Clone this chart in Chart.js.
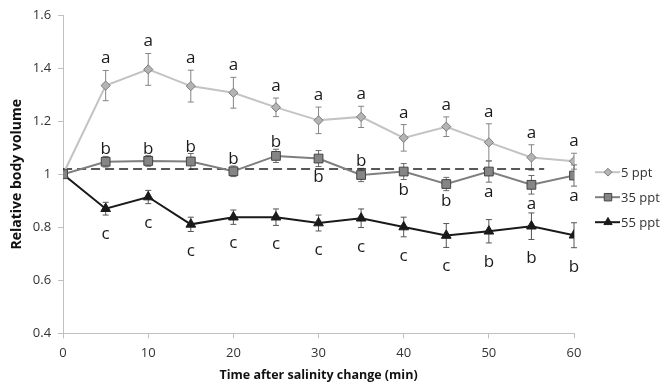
<!DOCTYPE html>
<html>
<head>
<meta charset="utf-8">
<script src="https://cdn.jsdelivr.net/npm/chart.js"></script>
<style>
  body { margin: 0; background: #fff; }
  #wrap { width: 663px; height: 384px; }
</style>
</head>
<body>
<div id="wrap"><canvas id="chart" width="663" height="384"></canvas></div>
<script>
// --- DATA ---
const times = [0, 5, 10, 15, 20, 25, 30, 35, 40, 45, 50, 55, 60];
const seriesNames = ["5 ppt", "35 ppt", "55 ppt"];

const vol5  = [1.0, 1.334, 1.395, 1.332, 1.307, 1.252, 1.203, 1.216, 1.137, 1.179, 1.120, 1.063, 1.049];
const err5  = [0, 0.057, 0.060, 0.060, 0.058, 0.035, 0.050, 0.040, 0.050, 0.037, 0.070, 0.048, 0.030];
const vol35 = [1.0, 1.047, 1.050, 1.048, 1.011, 1.069, 1.059, 0.997, 1.010, 0.963, 1.010, 0.960, 0.995];
const err35 = [0, 0.020, 0.020, 0.030, 0.020, 0.025, 0.030, 0.025, 0.030, 0.025, 0.040, 0.035, 0.040];
const vol55 = [1.0, 0.870, 0.914, 0.811, 0.838, 0.838, 0.816, 0.834, 0.801, 0.769, 0.785, 0.804, 0.770];
const err55 = [0, 0.024, 0.025, 0.027, 0.027, 0.031, 0.030, 0.035, 0.037, 0.045, 0.044, 0.050, 0.047];

// significance letters and which side of the point they sit on
const letters5  = ["", "a", "a", "a", "a", "a", "a", "a", "a", "a", "a", "a", "a"];
const side5     = ["", "up", "up", "up", "up", "up", "up", "up", "up", "up", "up", "up", "up"];
const letters35 = ["", "b", "b", "b", "b", "b", "b", "b", "b", "b", "a", "a", "a"];
const side35    = ["", "up", "up", "up", "up", "up", "down", "up", "down", "down", "down", "down", "down"];
const letters55 = ["", "c", "c", "c", "c", "c", "c", "c", "c", "c", "b", "b", "b"];
const side55    = ["", "down", "down", "down", "down", "down", "down", "down", "down", "down", "down", "down", "down"];

// dashed reference line
const refX = [0, 56.5];
const refY = [1.02, 1.02];

const yTicks = [0.4, 0.6, 0.8, 1.0, 1.2, 1.4, 1.6];
const yTickLabels = ["0.4", "0.6", "0.8", "1", "1.2", "1.4", "1.6"];
const xTicks = [0, 10, 20, 30, 40, 50, 60];
const xTickLabels = ["0", "10", "20", "30", "40", "50", "60"];

const FONT = "'Open Sans', sans-serif";

// --- STYLES ---
const styles = [
  { line: "#c3c3c3", fill: "#b4b4b4", border: "#7a7a7a", point: "rectRot", radius: 4.6, err: "#858585", gapUp: 7, gapDown: 15 },
  { line: "#7f7f7f", fill: "#858585", border: "#444444", point: "rect", radius: 6.2, err: "#6a6a6a", gapUp: 2, gapDown: 15 },
  { line: "#1a1a1a", fill: "#1a1a1a", border: "#1a1a1a", point: "triangle", radius: 5.6, err: "#555555", gapUp: 4, gapDown: 24 }
];

const values = [vol5, vol35, vol55];
const errors = [err5, err35, err55];
const letters = [letters5, letters35, letters55];
const sides = [side5, side35, side55];

function pts(ys) { return times.map((t, i) => ({ x: t, y: ys[i] })); }

const datasets = values.map((v, k) => ({
  label: seriesNames[k],
  data: pts(v),
  borderColor: styles[k].line,
  borderWidth: 2,
  backgroundColor: styles[k].fill,
  pointBackgroundColor: styles[k].fill,
  pointBorderColor: styles[k].border,
  pointBorderWidth: 1,
  pointStyle: styles[k].point,
  pointRadius: styles[k].radius,
  tension: 0,
  order: k === 1 ? 0 : (k === 0 ? 2 : 1)
}));

datasets.push({
  label: "ref",
  data: refX.map((x, i) => ({ x: x, y: refY[i] })),
  borderColor: "#222",
  borderWidth: 1.5,
  borderDash: [9, 5],
  pointRadius: 0,
  order: 3
});

// error bars + letters + legend
const extras = {
  id: "extras",
  beforeDatasetsDraw(chart) {
    const ctx = chart.ctx, xs = chart.scales.x, ys = chart.scales.y;
    ctx.save();
    ctx.lineWidth = 1;
    values.forEach((v, k) => {
      ctx.strokeStyle = styles[k].err;
      v.forEach((val, i) => {
        const e = errors[k][i];
        if (!e) return;
        const px = xs.getPixelForValue(times[i]);
        const top = ys.getPixelForValue(val + e);
        const bot = ys.getPixelForValue(val - e);
        ctx.beginPath();
        ctx.moveTo(px, top); ctx.lineTo(px, bot);
        ctx.moveTo(px - 3, top); ctx.lineTo(px + 3, top);
        ctx.moveTo(px - 3, bot); ctx.lineTo(px + 3, bot);
        ctx.stroke();
      });
    });
    ctx.restore();
  },
  afterDraw(chart) {
    const ctx = chart.ctx, xs = chart.scales.x, ys = chart.scales.y, area = chart.chartArea;
    ctx.save();
    ctx.font = "17px " + FONT;
    ctx.fillStyle = "#1a1a1a";
    ctx.textAlign = "center";
    ctx.textBaseline = "alphabetic";
    values.forEach((v, k) => {
      v.forEach((val, i) => {
        const t = letters[k][i];
        if (!t) return;
        const e = errors[k][i];
        const px = xs.getPixelForValue(times[i]);
        if (sides[k][i] === "up") {
          ctx.fillText(t, px, ys.getPixelForValue(val + e) - styles[k].gapUp);
        } else {
          ctx.fillText(t, px, ys.getPixelForValue(val - e) + styles[k].gapDown);
        }
      });
    });

    // legend
    const lx = area.right + 21;
    let ly = (area.top + area.bottom) / 2 - 2;
    ctx.font = "13px " + FONT;
    ctx.textAlign = "left";
    ctx.textBaseline = "middle";
    seriesNames.forEach((name, k) => {
      const s = styles[k];
      ctx.strokeStyle = s.line;
      ctx.lineWidth = 2;
      ctx.beginPath();
      ctx.moveTo(lx, ly); ctx.lineTo(lx + 25, ly);
      ctx.stroke();
      ctx.fillStyle = s.fill;
      ctx.strokeStyle = s.border;
      ctx.lineWidth = 1;
      Chart.helpers.drawPoint(ctx, { pointStyle: s.point, radius: s.radius * 0.85, borderWidth: 1 }, lx + 13, ly);
      ctx.fillStyle = "#333";
      ctx.fillText(name, lx + 26, ly + 1);
      ly += 25;
    });
    ctx.restore();
  }
};

new Chart(document.getElementById("chart"), {
  type: "line",
  data: { datasets: datasets },
  plugins: [extras],
  options: {
    responsive: false,
    animation: false,
    devicePixelRatio: 1,
    layout: { padding: { left: 0, right: 89, top: 15, bottom: 1 } },
    plugins: { legend: { display: false }, tooltip: { enabled: false } },
    scales: {
      x: {
        type: "linear",
        min: 0, max: 60,
        afterBuildTicks: (axis) => { axis.ticks = xTicks.map(v => ({ value: v })); },
        ticks: {
          padding: 7,
          color: "#333",
          font: { family: FONT, size: 13 },
          callback: (v) => xTickLabels[xTicks.indexOf(v)]
        },
        grid: { drawOnChartArea: false, drawTicks: true, tickLength: 5, color: "#c0c0c0" },
        border: { color: "#c0c0c0", width: 1 },
        title: {
          display: true,
          text: "Time after salinity change (min)",
          color: "#111",
          font: { family: FONT, size: 12.5, weight: "bold" },
          padding: { top: 0, bottom: 0 }
        }
      },
      y: {
        min: 0.4, max: 1.6,
        afterBuildTicks: (axis) => { axis.ticks = yTicks.map(v => ({ value: v })); },
        ticks: {
          padding: 7,
          color: "#333",
          font: { family: FONT, size: 13 },
          callback: (v) => yTickLabels[yTicks.findIndex(t => Math.abs(t - v) < 1e-6)]
        },
        grid: { drawOnChartArea: false, drawTicks: true, tickLength: 5, color: "#c0c0c0" },
        border: { color: "#c0c0c0", width: 1 },
        title: {
          display: true,
          text: "Relative body volume",
          color: "#111",
          font: { family: FONT, size: 14, weight: "bold" },
          padding: { top: 9, bottom: 0 }
        }
      }
    }
  }
});
</script>
</body>
</html>
